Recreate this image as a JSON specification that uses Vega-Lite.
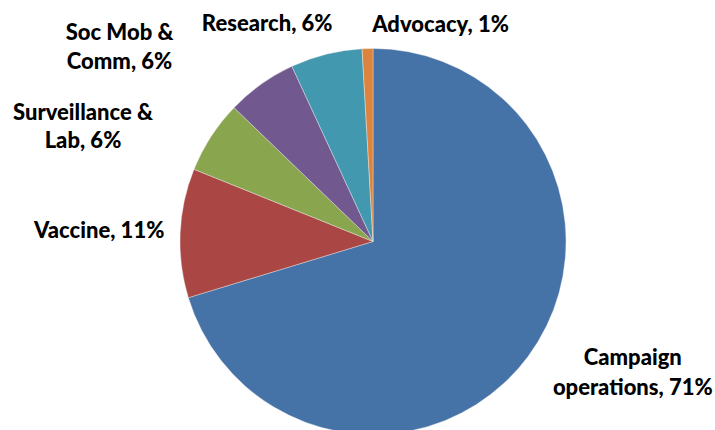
{
  "$schema": "https://vega.github.io/schema/vega-lite/v6.json",
  "autosize": {"type": "none"},
  "width": 684,
  "height": 379,
  "padding": {"left": 31, "top": 52, "right": 0, "bottom": 0},
  "background": "white",
  "config": {"view": {"stroke": null}},
  "data": {
    "values": [
      {"category": "Campaign operations", "value": 70.3, "label": "Campaign\noperations, 71%", "order": 1},
      {"category": "Vaccine", "value": 10.8, "label": "Vaccine, 11%", "order": 2},
      {"category": "Surveillance & Lab", "value": 6.1, "label": "Surveillance &\nLab, 6%", "order": 3},
      {"category": "Soc Mob & Comm", "value": 5.9, "label": "Soc Mob &\nComm, 6%", "order": 4},
      {"category": "Research", "value": 6.0, "label": "Research, 6%", "order": 5},
      {"category": "Advocacy", "value": 0.9, "label": "Advocacy, 1%", "order": 6}
    ]
  },
  "encoding": {
    "theta": {"field": "value", "type": "quantitative", "stack": true},
    "order": {"field": "order", "type": "quantitative"}
  },
  "layer": [
    {
      "mark": {"type": "arc", "outerRadius": 193, "stroke": "#f0f0f0", "strokeWidth": 0.4},
      "encoding": {
        "color": {
          "field": "category",
          "type": "nominal",
          "scale": {
            "domain": ["Campaign operations", "Vaccine", "Surveillance & Lab", "Soc Mob & Comm", "Research", "Advocacy"],
            "range": ["#4572A7", "#AA4643", "#89A54E", "#71588F", "#4198AF", "#DB843D"]
          },
          "legend": null
        }
      }
    },
    {
      "mark": {"type": "text", "radius": 230, "dx": 75, "dy": -20, "font": "Lato", "fontWeight": 900, "fontSize": 22, "lineBreak": "\n", "lineHeight": 30, "align": "center", "baseline": "middle", "color": "#000"},
      "encoding": {"text": {"condition": {"test": "datum.order === 1", "field": "label"}, "value": ""}}
    },
    {
      "mark": {"type": "text", "radius": 230, "dx": -44, "dy": 0, "font": "Lato", "fontWeight": 900, "fontSize": 22, "lineBreak": "\n", "lineHeight": 29, "align": "center", "baseline": "middle", "color": "#000"},
      "encoding": {"text": {"condition": {"test": "datum.order === 2", "field": "label"}, "value": ""}}
    },
    {
      "mark": {"type": "text", "radius": 230, "dx": -97, "dy": -3, "font": "Lato", "fontWeight": 900, "fontSize": 22, "lineBreak": "\n", "lineHeight": 28, "align": "center", "baseline": "middle", "color": "#000"},
      "encoding": {"text": {"condition": {"test": "datum.order === 3", "field": "label"}, "value": ""}}
    },
    {
      "mark": {"type": "text", "radius": 230, "dx": -120, "dy": -21, "font": "Lato", "fontWeight": 900, "fontSize": 22, "lineBreak": "\n", "lineHeight": 29, "align": "center", "baseline": "middle", "color": "#000"},
      "encoding": {"text": {"condition": {"test": "datum.order === 4", "field": "label"}, "value": ""}}
    },
    {
      "mark": {"type": "text", "radius": 230, "dx": -50, "dy": 6, "font": "Lato", "fontWeight": 900, "fontSize": 22, "lineBreak": "\n", "lineHeight": 29, "align": "center", "baseline": "middle", "color": "#000"},
      "encoding": {"text": {"condition": {"test": "datum.order === 5", "field": "label"}, "value": ""}}
    },
    {
      "mark": {"type": "text", "radius": 230, "dx": 74, "dy": 13, "font": "Lato", "fontWeight": 900, "fontSize": 22, "lineBreak": "\n", "lineHeight": 29, "align": "center", "baseline": "middle", "color": "#000"},
      "encoding": {"text": {"condition": {"test": "datum.order === 6", "field": "label"}, "value": ""}}
    }
  ]
}
